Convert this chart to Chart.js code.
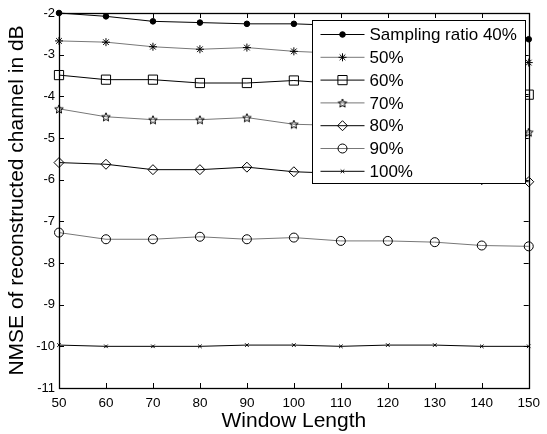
<!DOCTYPE html>
<html>
<head>
<meta charset="utf-8">
<script src="https://cdn.jsdelivr.net/npm/chart.js@4/dist/chart.umd.min.js"></script>
<style>
  html, body { margin: 0; padding: 0; background: #fff; }
  #wrap { width: 547px; height: 434px; }
</style>
</head>
<body>
<div id="wrap"><canvas id="c" width="547" height="434"></canvas></div>
<script>
/********** DATA **********/
const windowLengths = [50, 60, 70, 80, 90, 100, 110, 120, 130, 140, 150];

const ratio40 = [-2.00, -2.08, -2.20, -2.23, -2.26, -2.26, -2.30, -2.35, -2.42, -2.52, -2.63];
const ratio50 = [-2.67, -2.70, -2.81, -2.87, -2.83, -2.92, -2.97, -3.00, -3.05, -3.10, -3.19];
const ratio60 = [-3.49, -3.60, -3.60, -3.68, -3.68, -3.62, -3.70, -3.75, -3.80, -3.88, -3.96];
const ratio70 = [-4.30, -4.49, -4.56, -4.56, -4.51, -4.67, -4.70, -4.72, -4.76, -4.80, -4.86];
const ratio80 = [-5.59, -5.63, -5.76, -5.76, -5.70, -5.81, -5.85, -5.90, -5.95, -6.00, -6.05];
const ratio90 = [-7.27, -7.43, -7.43, -7.37, -7.43, -7.39, -7.47, -7.47, -7.50, -7.58, -7.60];
const ratio100 = [-9.97, -10.00, -10.00, -10.00, -9.97, -9.97, -10.00, -9.97, -9.97, -10.00, -10.00];

const seriesLabels = ['Sampling ratio 40%', '50%', '60%', '70%', '80%', '90%', '100%'];
const yTicks = [-2, -3, -4, -5, -6, -7, -8, -9, -10, -11];

const FONT = "'Liberation Sans', Arial, sans-serif";

/********** five point star marker **********/
function makePentagram(r) {
  const s = Math.ceil(r * 2 + 3);
  const c = document.createElement('canvas');
  c.width = s; c.height = s;
  const g = c.getContext('2d');
  g.beginPath();
  for (let i = 0; i < 10; i++) {
    const a = -Math.PI / 2 + i * Math.PI / 5;
    const rad = i % 2 ? r * 0.45 : r;
    const px = s / 2 + rad * Math.cos(a);
    const py = s / 2 + 0.5 + rad * Math.sin(a);
    if (i === 0) g.moveTo(px, py); else g.lineTo(px, py);
  }
  g.closePath();
  g.strokeStyle = '#000';
  g.lineWidth = 1;
  g.stroke();
  return c;
}
const pentagram = makePentagram(4.5);

function toPoints(arr) {
  return arr.map((v, i) => ({ x: windowLengths[i], y: v }));
}

function makeSet(label, values, color, style, radius, fill) {
  return {
    label: label,
    data: toPoints(values),
    borderColor: color,
    borderWidth: 1,
    pointStyle: style,
    pointRadius: radius,
    pointHoverRadius: radius,
    pointBorderColor: '#000',
    pointBackgroundColor: fill,
    pointBorderWidth: 1,
    tension: 0,
    clip: false
  };
}

const NONE = 'rgba(0,0,0,0)';
const datasets = [
  makeSet(seriesLabels[0], ratio40, '#000', 'circle', 2.8, '#000'),
  makeSet(seriesLabels[1], ratio50, '#777', 'star', 4, NONE),
  makeSet(seriesLabels[2], ratio60, '#000', 'rect', 6.5, NONE),
  makeSet(seriesLabels[3], ratio70, '#777', pentagram, 4.5, NONE),
  makeSet(seriesLabels[4], ratio80, '#000', 'rectRot', 5, NONE),
  makeSet(seriesLabels[5], ratio90, '#777', 'circle', 4.5, NONE),
  makeSet(seriesLabels[6], ratio100, '#000', 'crossRot', 2.5, NONE)
];

/********** box + inward ticks (matlab style) **********/
const frame = {
  id: 'frame',
  afterDatasetsDraw(chart) {
    const { ctx, chartArea: a, scales } = chart;
    ctx.save();
    ctx.strokeStyle = '#000';
    ctx.lineWidth = 1;
    ctx.beginPath();
    const tl = 5;
    scales.x.ticks.forEach(t => {
      const px = Math.round(scales.x.getPixelForValue(t.value)) + 0.5;
      ctx.moveTo(px, a.bottom); ctx.lineTo(px, a.bottom - tl);
      ctx.moveTo(px, a.top); ctx.lineTo(px, a.top + tl);
    });
    scales.y.ticks.forEach(t => {
      const py = Math.round(scales.y.getPixelForValue(t.value)) + 0.5;
      ctx.moveTo(a.left, py); ctx.lineTo(a.left + tl, py);
      ctx.moveTo(a.right, py); ctx.lineTo(a.right - tl, py);
    });
    ctx.stroke();
    ctx.lineWidth = 1.3;
    ctx.strokeRect(Math.round(a.left) + 0.5, Math.round(a.top) + 0.5,
      Math.round(a.right - a.left), Math.round(a.bottom - a.top));
    ctx.restore();
  }
};

/********** legend with line + marker **********/
const lineLegend = {
  id: 'lineLegend',
  afterDraw(chart) {
    const { ctx, chartArea: a } = chart;
    const w = 213, h = 163;
    const x0 = Math.round(a.right - 4 - w) + 0.5;
    const y0 = Math.round(a.top + 7) + 0.5;
    ctx.save();
    ctx.fillStyle = '#fff';
    ctx.fillRect(x0, y0, w, h);
    ctx.strokeStyle = '#000';
    ctx.lineWidth = 1;
    ctx.strokeRect(x0, y0, w, h);

    ctx.font = '17px ' + FONT;
    ctx.textBaseline = 'middle';
    chart.data.datasets.forEach((ds, i) => {
      const cy = y0 + 14 + i * 22.8;
      ctx.strokeStyle = ds.borderColor;
      ctx.lineWidth = 1;
      ctx.beginPath();
      ctx.moveTo(x0 + 8, cy); ctx.lineTo(x0 + 52, cy);
      ctx.stroke();
      ctx.strokeStyle = ds.pointBorderColor;
      ctx.fillStyle = ds.pointBackgroundColor;
      Chart.helpers.drawPoint(ctx, {
        pointStyle: ds.pointStyle, radius: ds.pointRadius,
        borderWidth: 1, rotation: 0
      }, x0 + 30, cy);
      ctx.fillStyle = '#000';
      ctx.fillText(ds.label, x0 + 57, cy + 1);
    });
    ctx.restore();
  }
};

new Chart(document.getElementById('c'), {
  type: 'line',
  data: { datasets: datasets },
  plugins: [frame, lineLegend],
  options: {
    responsive: false,
    animation: false,
    layout: { padding: { top: 13, right: 14, left: 0, bottom: 0 } },
    plugins: { legend: { display: false }, tooltip: { enabled: false } },
    scales: {
      x: {
        type: 'linear', min: 50, max: 150,
        afterFit: s => { s.height = 46; },
        ticks: { stepSize: 10, color: '#000', padding: 7, font: { family: FONT, size: 13.5 } },
        grid: { display: false, drawTicks: false },
        border: { display: false },
        title: { display: true, text: 'Window Length', color: '#000',
          font: { family: FONT, size: 21 }, padding: { top: 0, bottom: 0 } }
      },
      y: {
        min: -11, max: -2,
        afterFit: s => { s.width = 59; },
        afterBuildTicks: s => { s.ticks = yTicks.map(v => ({ value: v })); },
        ticks: { color: '#000', padding: 4, font: { family: FONT, size: 13 } },
        grid: { display: false, drawTicks: false },
        border: { display: false },
        title: { display: true, text: 'NMSE of reconstructed channel in dB', color: '#000',
          font: { family: FONT, size: 21 }, padding: { top: 5, bottom: 0 } }
      }
    }
  }
});
</script>
</body>
</html>
